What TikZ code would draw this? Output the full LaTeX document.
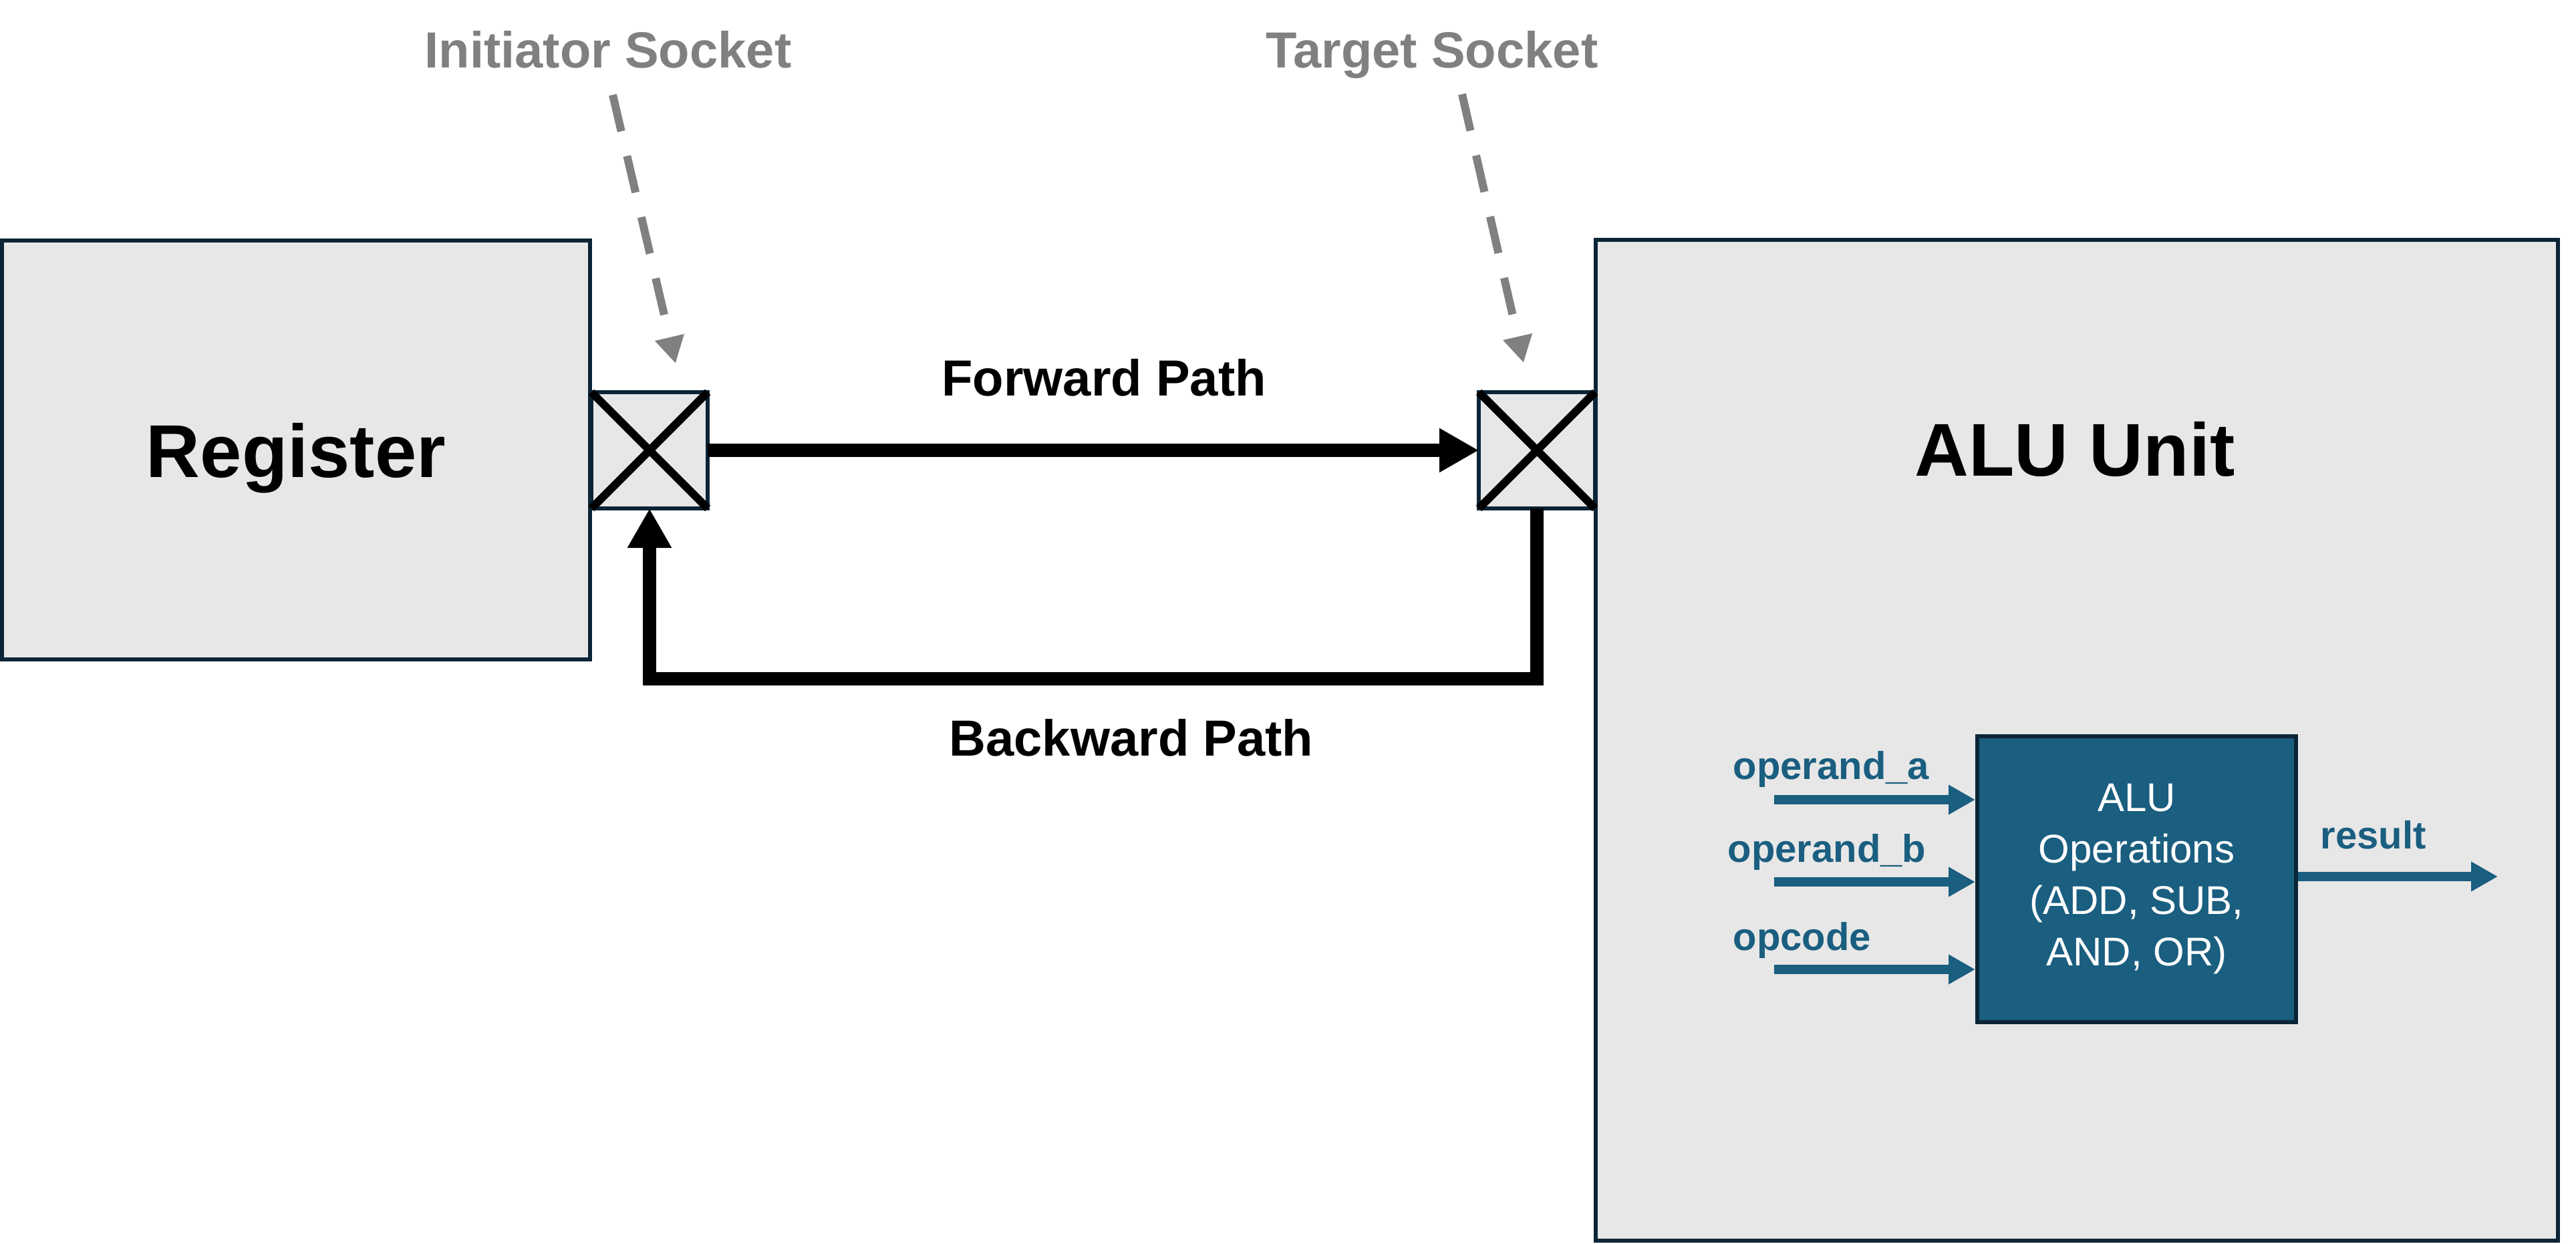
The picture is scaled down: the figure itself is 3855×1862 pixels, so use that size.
\documentclass[tikz,border=0pt]{standalone}
\usepackage{fontspec}
\setmainfont{Liberation Sans}
\usetikzlibrary{arrows.meta}
\definecolor{boxfill}{HTML}{E7E7E7}
\definecolor{edgec}{HTML}{0B2536}
\definecolor{tealc}{HTML}{1A5E80}
\definecolor{grayc}{HTML}{808080}
\tikzset{
  bigbox/.style={draw=edgec, fill=boxfill, line width=1.6pt, inner sep=0pt},
  socket/.style={draw=edgec, fill=boxfill, line width=1.7pt, minimum size=43.5pt, inner sep=0pt, outer sep=0pt},
  crossline/.style={draw=black, line width=3pt},
  bigarrow/.style={draw=black, line width=5.2pt, line join=miter, -{Triangle[length=14.75pt,width=15.5pt]}},
  dasharrow/.style={draw=grayc, line width=3pt, dash pattern=on 14pt off 9.5pt, -{Triangle[length=10pt,width=10.5pt]}},
  tealarrow/.style={draw=tealc, line width=3.5pt, -{Triangle[length=10pt,width=10.5pt]}},
  opbox/.style={draw=edgec, fill=tealc, line width=1.5pt, minimum width=119.25pt, minimum height=107pt, inner sep=0pt, text=white, align=center, font=\fontsize{15}{19.25}\selectfont},
  titlefont/.style={font=\bfseries\fontsize{28}{34}\selectfont},
  midfont/.style={font=\bfseries\fontsize{19}{23}\selectfont},
  sigfont/.style={font=\bfseries\fontsize{14.5}{17}\selectfont, text=tealc, inner sep=0pt}
}
\begin{document}
\begin{tikzpicture}[x=0.25pt,y=-0.25pt]
\useasboundingbox (0,0) rectangle (3855,1862);
% main boxes
\node[bigbox, titlefont, text depth=0pt, minimum width=220pt, minimum height=156.75pt] (reg) at (443,673.5) {Register};
\node[bigbox, minimum width=360pt, minimum height=374.5pt] (alu) at (3108,1108) {};
\node[titlefont, anchor=base, inner sep=0pt] (alutitle) at (3105,712) {ALU Unit};
% sockets
\node[socket] (isock) at (972,674) {};
\node[socket] (tsock) at (2300,674) {};
\draw[crossline] (isock.north west) -- (isock.south east);
\draw[crossline] (isock.south west) -- (isock.north east);
\draw[crossline] (tsock.north west) -- (tsock.south east);
\draw[crossline] (tsock.south west) -- (tsock.north east);
% paths
\draw[bigarrow] (isock.east) -- (tsock.west);
\coordinate (bk) at (2300,1016);
\draw[bigarrow] (tsock.south) -- (bk) -| (isock.south);
\node[midfont, anchor=base, inner sep=0pt] (fwd) at (1652,592) {Forward Path};
\node[midfont, anchor=base, inner sep=0pt] (bwd) at (1693,1131) {Backward Path};
% socket labels
\node[midfont, text=grayc, anchor=base, inner sep=0pt] (ilbl) at (910,102) {Initiator Socket};
\node[midfont, text=grayc, anchor=base, inner sep=0pt] (tlbl) at (2143,102) {Target Socket};
\coordinate (ia0) at (917,142);
\coordinate (ia1) at (1011,544);
\coordinate (ta0) at (2188,141);
\coordinate (ta1) at (2280,543);
\draw[dasharrow] (ia0) -- (ia1);
\draw[dasharrow] (ta0) -- (ta1);
% ALU operations
\node[opbox] (ops) at (3197.5,1316) {ALU\\Operations\\(ADD, SUB,\\AND, OR)};
\coordinate (ina) at (2655,1197);
\coordinate (inb) at (2655,1320);
\coordinate (inc) at (2655,1451);
\coordinate (resend) at (3738,1312);
\draw[tealarrow] (ina) -- (ina -| ops.west);
\draw[tealarrow] (inb) -- (inb -| ops.west);
\draw[tealarrow] (inc) -- (inc -| ops.west);
\draw[tealarrow] (ops.east |- resend) -- (resend);
\node[sigfont, anchor=base west] (la) at (2593,1166) {operand\_a};
\node[sigfont, anchor=base west] (lb) at (2585,1290) {operand\_b};
\node[sigfont, anchor=base west] (lc) at (2593,1422) {opcode};
\node[sigfont, anchor=base west] (lr) at (3472,1270) {result};
\end{tikzpicture}
\end{document}
